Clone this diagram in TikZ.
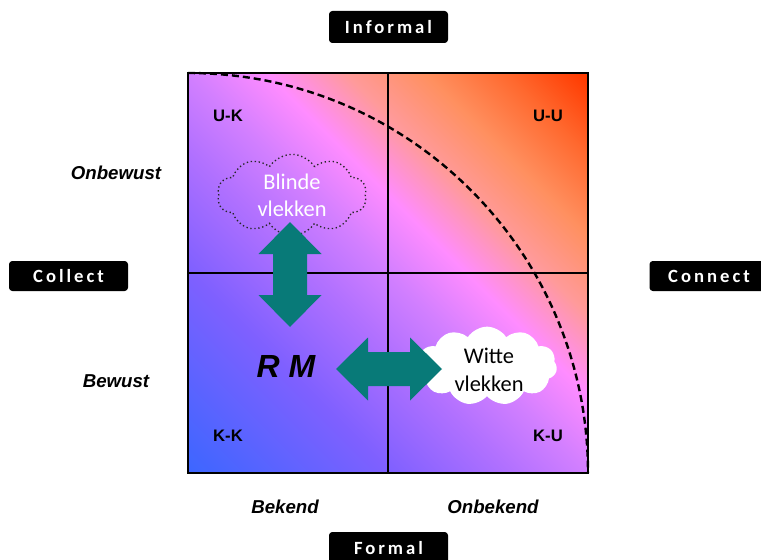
\documentclass[tikz,border=0pt]{standalone}
\usepackage{fontspec}
\setmainfont{Liberation Sans}
\newfontfamily\calfont{Carlito}
\newfontfamily\boxfont[LetterSpace=16]{Carlito}
\usetikzlibrary{shapes.symbols}
\definecolor{cA}{HTML}{3E66FF}
\definecolor{cB}{HTML}{7F60FF}
\definecolor{cG}{HTML}{B070FF}
\definecolor{cH}{HTML}{D27FFF}
\definecolor{cC}{HTML}{FF8CFF}
\definecolor{cD}{HTML}{FF9A9A}
\definecolor{cE}{HTML}{FF9060}
\definecolor{cI}{HTML}{FF6A30}
\definecolor{cF}{HTML}{FF3A00}
\definecolor{arrowteal}{RGB}{8,122,120}
\pgfdeclarehorizontalshading{quadshade}{100bp}{color(0bp)=(cA); color(15bp)=(cA); color(32.5bp)=(cB); color(43bp)=(cG); color(50bp)=(cH); color(57bp)=(cC); color(64bp)=(cD); color(71bp)=(cE); color(78bp)=(cI); color(85bp)=(cF); color(100bp)=(cF)}
\tikzset{
  quadlbl/.style={font=\bfseries\fontsize{12.5}{14}\selectfont, inner sep=0pt},
  axislbl/.style={font=\bfseries\itshape\fontsize{14}{16}\selectfont, inner sep=0pt},
  tagbox/.style={fill=black, rounded corners=2.5pt, text=white, font=\boxfont\bfseries\fontsize{14}{16}\selectfont, inner sep=0pt, minimum width=89.25pt},
  cloudtxt/.style={font=\calfont\fontsize{16.8}{20.5}\selectfont, align=center, inner sep=0pt},
  bigarrow/.style={fill=arrowteal}
}
\begin{document}
\begin{tikzpicture}[x=0.75pt,y=-0.75pt]
\clip (0,0) rectangle (761,560);
\fill[white] (0,0) rectangle (761,560);
% background square
\fill[shading=quadshade, shading angle=45] (188,73) rectangle (588,473);
% quadrant lines
\draw[line width=0.8pt] (388,73) -- (388,473);
\draw[line width=0.8pt] (188,273) -- (588,273);
% dashed quarter circle
\draw[line width=1.8pt, dash pattern=on 5.25pt off 3pt] (188,73) arc[start angle=-90, end angle=0, radius=400];
% quadrant labels
\node[quadlbl] (uk) at (228,116) {U-K};
\node[quadlbl] (uu) at (548,116) {U-U};
\node[quadlbl] (kk) at (228,436) {K-K};
\node[quadlbl] (ku) at (548,436) {K-U};
% axis labels
\node[axislbl] (onbewust) at (116,173) {Onbewust};
\node[axislbl] (bewust) at (116,381) {Bewust};
\node[axislbl] (bekend) at (285,507) {Bekend};
\node[axislbl] (onbekend) at (493,507) {Onbekend};
% tags
\node[tagbox, minimum height=24pt] (informal) at (388.5,27) {Informal};
\node[tagbox, minimum height=22.5pt] (collect) at (68.5,276) {Collect};
\node[tagbox, minimum height=22.5pt] (connect) at (709,276) {Connect};
\node[tagbox, minimum height=24pt] (formal) at (388.5,548) {Formal};
% clouds
\node[cloud, cloud puffs=10, cloud puff arc=115, draw=black!85, line width=1pt, dotted,
      minimum width=112pt, minimum height=61pt, inner sep=0pt] (blind) at (292,195) {};
\node[cloudtxt, text=white] (blindtxt) at (292,195) {Blinde\\vlekken};
\node[cloud, cloud puffs=11, cloud puff arc=115, fill=white,
      minimum width=105pt, minimum height=59pt, inner sep=0pt] (witte) at (487,366) {};
% arrows
\fill[bigarrow] (290,222) -- (321.5,254) -- (307,254) -- (307,295) -- (321.5,295) -- (290,327)
  -- (258.5,295) -- (273,295) -- (273,254) -- (258.5,254) -- cycle;
\fill[bigarrow] (336,369) -- (368,337.5) -- (368,352) -- (410,352) -- (410,337.5) -- (442,369)
  -- (410,400.5) -- (410,386) -- (368,386) -- (368,400.5) -- cycle;
\node[cloudtxt, text=black] (wittetxt) at (489,370) {Witte\\vlekken};
% RM
\node[font=\bfseries\itshape\fontsize{24}{28}\selectfont, inner sep=0pt] (rm) at (286,366) {R M};
% border
\draw[line width=1.5pt] (188,73) rectangle (588,473);
\end{tikzpicture}
\end{document}
